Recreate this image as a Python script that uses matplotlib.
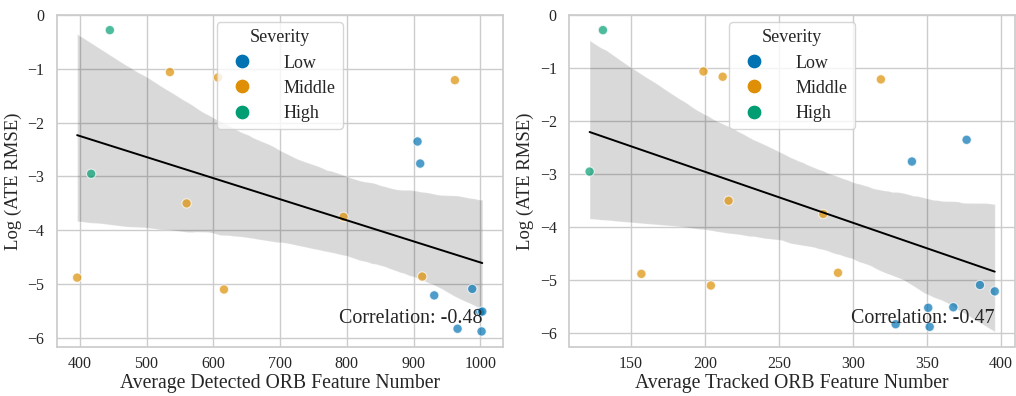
import matplotlib
matplotlib.use("Agg")
import matplotlib.pyplot as plt
import numpy as np
import pandas as pd
import seaborn as sns

# 每个序列的数据
severity = ["High", "High",
            "Middle", "Middle", "Middle", "Middle", "Middle", "Middle", "Middle", "Middle",
            "Low", "Low", "Low", "Low", "Low", "Low", "Low", "Low"]
log_ate = [-0.28, -2.95,
           -1.06, -1.16, -1.21, -3.50, -3.75, -4.88, -5.10, -4.86,
           -2.35, -2.76, -5.09, -5.21, -5.52, -5.51, -5.83, -5.88]
detected = [445, 417,
            535, 607, 962, 560, 795, 396, 616, 913,
            906, 910, 988, 931, 1000, 1003, 966, 1002]
tracked = [131, 122,
           199, 212, 319, 216, 280, 157, 204, 290,
           377, 340, 386, 396, 351, 368, 329, 352]
x_labels = ["Average Detected ORB Feature Number", "Average Tracked ORB Feature Number"]
corr_labels = ["Correlation: -0.48", "Correlation: -0.47"]
hue_order = ["Low", "Middle", "High"]

df = pd.DataFrame({"Severity": severity, "Log (ATE RMSE)": log_ate,
                   "detected": detected, "tracked": tracked})

sns.set_theme(style="whitegrid")
plt.rcParams["font.family"] = ["Liberation Serif", "DejaVu Serif"]

fig, axes = plt.subplots(1, 2, figsize=(10.16, 3.96), dpi=100)
fig.subplots_adjust(left=0.056, right=0.999, top=0.962, bottom=0.125, wspace=0.15)

palette = sns.color_palette("colorblind", 3)

for ax, col, xl, cl in zip(axes, ["detected", "tracked"], x_labels, corr_labels):
    sns.regplot(data=df, x=col, y="Log (ATE RMSE)", scatter=False, color="black",
                ax=ax, seed=3, line_kws={"lw": 1.4})
    sns.scatterplot(data=df, x=col, y="Log (ATE RMSE)", hue="Severity",
                    hue_order=hue_order, palette=palette, alpha=0.7, s=45,
                    edgecolor="white", linewidth=0.8, ax=ax)
    ax.set_xlabel(xl, fontsize=14.2, labelpad=1)
    ax.set_ylabel("Log (ATE RMSE)", fontsize=13.5, labelpad=4)
    ax.tick_params(axis="x", labelsize=11.5, pad=1)
    ax.tick_params(axis="y", labelsize=11.5, pad=3)
    ax.set_yticks([0, -1, -2, -3, -4, -5, -6])
    leg = ax.legend(title="Severity", loc="upper center", fontsize=13,
                    title_fontsize=13, markerscale=1.6, handletextpad=1.3,
                    labelspacing=0.45, borderaxespad=0.4)
    for h in leg.legend_handles:
        h.set_alpha(1)
    ax.text(0.955, 0.055, cl, transform=ax.transAxes, ha="right", va="bottom",
            fontsize=14.4)

plt.savefig("out.png")
